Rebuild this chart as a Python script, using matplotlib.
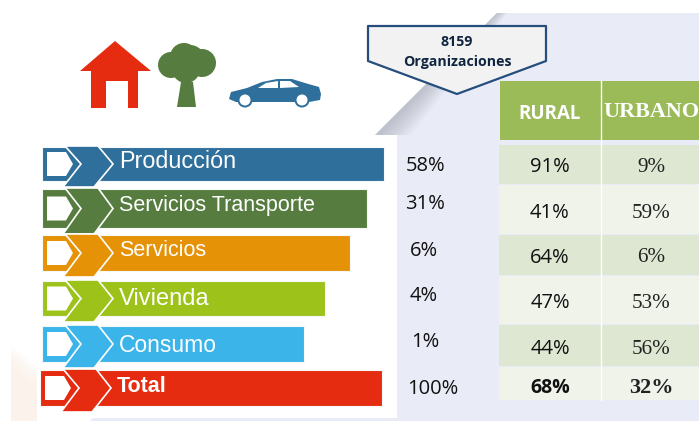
import matplotlib
matplotlib.use("Agg")
import matplotlib.pyplot as plt
from matplotlib.patches import Polygon, Circle, Rectangle

# --- data ---
categories = ["Producción", "Servicios Transporte", "Servicios", "Vivienda", "Consumo", "Total"]
shares = ["58%", "31%", "6%", "4%", "1%", "100%"]
rural = ["91%", "41%", "64%", "47%", "44%", "68%"]
urbano = ["9%", "59%", "6%", "53%", "56%", "32%"]
headers = ["RURAL", "URBANO"]
callout_lines = ["8159", "Organizaciones"]

# --- layout / style (pixels) ---
bar_colors = ["#2F6F9C", "#567D3F", "#E69207", "#9DC31A", "#3BB4EA", "#E52B10"]
bar_left = [42, 42, 42, 42, 42, 40]
bar_right = [384, 367, 350, 325, 304, 382]
bar_top = [147, 189, 235, 281, 326, 370]
bar_bot = [181, 228, 271, 316, 362, 406]
label_y = [161.5, 206, 251, 299, 345, 386.5]
label_size = [16.8, 15.5, 15.5, 17, 16.5, 15.5]
share_x = [426, 425, 424, 424, 425, 433]
share_y = [166, 204, 251, 296, 342, 389]
cell_y = [167, 213, 258, 303, 349, 388]
row_top = [145, 185, 235, 276, 325, 367]
row_bot = [184, 234, 275, 324, 366, 400]
row_col = ["#DEE7D1", "#EFF3EA"] * 3
LAV = "#E9ECF7"

fig = plt.figure(figsize=(6.99, 4.21), dpi=100)
ax = fig.add_axes([0, 0, 1, 1])
ax.set_xlim(0, 699)
ax.set_ylim(421, 0)
ax.axis("off")

# background diagonal with soft shadow along it
ax.add_patch(Polygon([(497, 13), (699, 13), (699, 421), (90, 421), (377, 133)], fc=LAV, ec="none", zorder=1))
for i in range(12):
    w = 34 - i * 2.8
    ax.add_patch(Polygon([(497, 13), (497 + w * 0.3, 13), (377 + w, 135), (375, 135)],
                         fc="#8E919C", ec="none", alpha=0.045, zorder=1.5))
for i in range(6):
    d = i * 4
    ax.add_patch(Polygon([(11, 345 + d), (37, 367 + d), (37, 421), (11, 421)], fc="#FBF0E6", ec="none",
                         alpha=0.2, zorder=1.6))
ax.add_patch(Rectangle((37, 135), 360, 283, fc="white", ec="none", zorder=2))

# icons
ax.add_patch(Polygon([(115, 41), (151, 71), (138, 71), (138, 108), (128, 108), (128, 81), (106, 81),
                      (106, 108), (91, 108), (91, 71), (80, 71)], fc="#E52B10", ec="none", zorder=3))
tree = "#567D3F"
ax.add_patch(Polygon([(181, 82), (193, 82), (196, 107), (177, 107)], fc=tree, ec="none", zorder=3))
for cx, cy, r in [(171, 65, 13), (184, 57, 14), (202, 63, 14), (186, 69, 14), (190, 60, 15)]:
    ax.add_patch(Circle((cx, cy), r, fc=tree, ec="none", zorder=3))
car = "#2F6F9C"
ax.add_patch(Polygon([(229, 99), (231, 92), (247, 88), (262, 82), (277, 79), (292, 79), (305, 83),
                      (319, 87), (321, 94), (320, 100), (309, 102), (295, 102), (252, 102), (236, 102)],
                     fc=car, ec="none", zorder=3))
ax.add_patch(Polygon([(258, 88), (266, 83), (278, 81), (278, 88)], fc="white", ec="none", zorder=3.1))
ax.add_patch(Polygon([(280, 81), (290, 81), (299, 87), (280, 88)], fc="white", ec="none", zorder=3.1))
for cx in [245, 302]:
    ax.add_patch(Circle((cx, 100), 7.5, fc=car, ec="none", zorder=3.2))
    ax.add_patch(Circle((cx, 100), 5.5, fc="white", ec="none", zorder=3.3))

# bars
centers = [(t + b) / 2 for t, b in zip(bar_top, bar_bot)]
heights = [b - t for t, b in zip(bar_top, bar_bot)]
widths = [r - l for l, r in zip(bar_left, bar_right)]
ax.barh(centers, widths, height=heights, left=bar_left, color=bar_colors, edgecolor="#F4F8F8", linewidth=0.8, zorder=3)
for i, name in enumerate(categories):
    col, x0, t, b, m = bar_colors[i], bar_left[i], bar_top[i], bar_bot[i], centers[i]
    ax.add_patch(Polygon([(x0 + 5, m - 12), (x0 + 24, m - 12), (x0 + 31, m), (x0 + 24, m + 12), (x0 + 5, m + 12)],
                         fc="white", ec="none", zorder=4))
    ax.add_patch(Polygon([(x0 + 23, t - 1), (x0 + 56, t - 1), (x0 + 71, m), (x0 + 52, b + 6), (x0 + 21, b + 6),
                          (x0 + 39, m)], fc=col, ec="white", lw=1.2, zorder=4, joinstyle="miter"))
    ax.text(x0 + 77, label_y[i], name, color="white", fontsize=label_size[i], family="Liberation Sans",
            fontweight="bold" if name == "Total" else "normal", va="center", ha="left", zorder=5)

# callout
ax.add_patch(Polygon([(368, 26), (546, 26), (546, 61), (457, 94), (368, 61)], fc="#F2F2F2", ec="#254E7E",
                     lw=1.6, zorder=6, joinstyle="round"))
for line, y in zip(callout_lines, [42, 62]):
    ax.text(457, y, line, fontsize=10.2, family="Open Sans", fontweight="bold", color="#10253F",
            ha="center", va="center", zorder=7)

# table
ax.add_patch(Rectangle((500, 81), 199, 59, fc="#9BBB59", ec="none", zorder=3))
ax.text(550, 114, headers[0], fontsize=13.5, family="Open Sans", fontweight="bold", color="white", ha="center", va="center", zorder=5)
ax.text(651, 112, headers[1], fontsize=15.9, family="Liberation Serif", fontweight="bold", color="white", ha="center", va="center", zorder=5)
for t, b, c in zip(row_top, row_bot, row_col):
    ax.add_patch(Rectangle((499, t), 200, b - t, fc=c, ec="none", zorder=3))
ax.plot([600.5, 600.5], [81, 400], color="white", lw=1, zorder=4)

for i in range(6):
    bold = i == 5
    ax.text(share_x[i], share_y[i], shares[i], fontsize=14.5, family="Open Sans", color="#111111", ha="center", va="center", zorder=5)
    ax.text(550, cell_y[i], rural[i], fontsize=14 if bold else 14.5, family="Open Sans", fontweight="bold" if bold else "normal",
            color="#111111", ha="center", va="center", zorder=5)
    ax.text(651, cell_y[i], urbano[i], fontsize=16 if bold else 15.2, family="Liberation Serif", fontweight="bold" if bold else "normal",
            color="#222222", ha="center", va="center", zorder=5)

fig.savefig("out.png", dpi=100)
